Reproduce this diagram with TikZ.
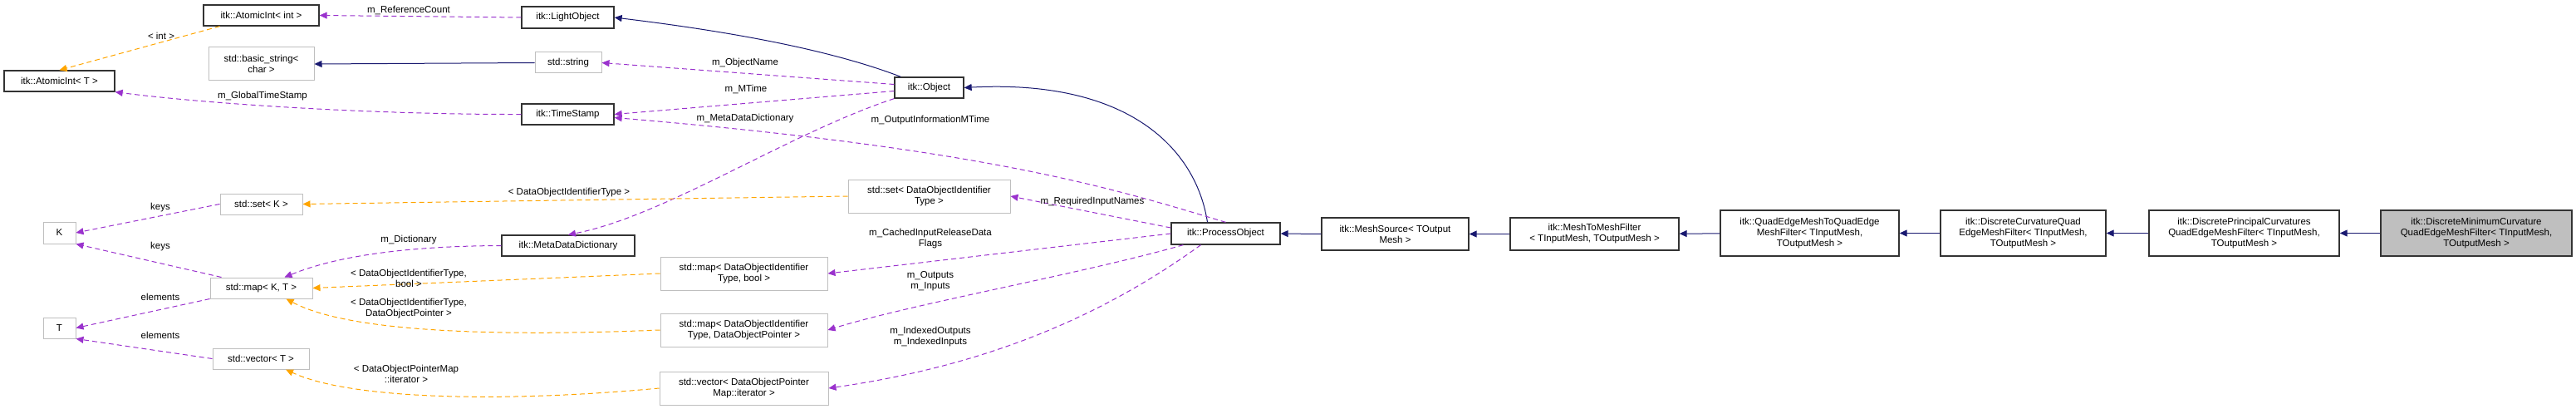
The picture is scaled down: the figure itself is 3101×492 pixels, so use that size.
\documentclass[tikz,border=0pt]{standalone}
\usepackage{fontspec}
\setmainfont{Liberation Sans}
\usetikzlibrary{arrows.meta,calc}
\newcommand{\bx}[7]{\node[#7,minimum width={#4-#2},minimum height={#5-#3}] (#1) at ({(#2+#4)/2},{(#3+#5)/2}) {#6};}
\begin{document}
\begin{tikzpicture}[x=1pt,y=-1pt,
 base/.style={draw,inner sep=1pt,align=center,font=\fontsize{11.5}{13}\selectfont},
 gbox/.style={base,draw=black!25,line width=1pt},
 kbox/.style={base,draw=black!80,line width=1.3pt},
 sel/.style={kbox,fill=black!25},
 tip/.style={-{Triangle[length=9pt,width=8pt]}},
 inh/.style={tip,draw=navy,line width=1pt},
 use/.style={tip,draw=purp,dashed,dash pattern=on 6pt off 4pt,line width=1pt},
 tpl/.style={tip,draw=orng,dashed,dash pattern=on 6pt off 4pt,line width=1pt},
 lbl/.style={align=center,inner sep=0pt,font=\fontsize{11.5}{13}\selectfont}]
\definecolor{navy}{HTML}{191970}
\definecolor{purp}{HTML}{9A32CD}
\definecolor{orng}{HTML}{FFA500}
\useasboundingbox (0,0) rectangle (3101,492);
\bx{aint}{245}{6}{384}{31}{itk::AtomicInt< int >}{kbox}
\bx{aT}{5}{85}{138}{110}{itk::AtomicInt< T >}{kbox}
\bx{bstr}{251}{57}{378}{97}{std::basic\_string<\\char >}{gbox}
\bx{K}{52}{267}{91}{293}{K}{gbox}
\bx{T}{52}{382}{91}{407}{T}{gbox}
\bx{setK}{265}{233}{364}{258}{std::set< K >}{gbox}
\bx{mapKT}{253}{334}{376}{359}{std::map< K, T >}{gbox}
\bx{vecT}{256}{419}{372}{444}{std::vector< T >}{gbox}
\bx{light}{628}{8}{739}{34}{itk::LightObject}{kbox}
\bx{str}{644}{63}{724}{88}{std::string}{gbox}
\bx{ts}{628}{125}{739}{150}{itk::TimeStamp}{kbox}
\bx{mdd}{604}{283}{764}{308}{itk::MetaDataDictionary}{kbox}
\bx{mapb}{795}{309}{996}{349}{std::map< DataObjectIdentifier\\Type, bool >}{gbox}
\bx{mapp}{795}{377}{996}{417}{std::map< DataObjectIdentifier\\Type, DataObjectPointer >}{gbox}
\bx{vecp}{794}{447}{997}{487}{std::vector< DataObjectPointer\\Map::iterator >}{gbox}
\bx{setd}{1021}{216}{1216}{256}{std::set< DataObjectIdentifier\\Type >}{gbox}
\bx{obj}{1077}{93}{1160}{118}{itk::Object}{kbox}
\bx{po}{1410}{268}{1541}{294}{itk::ProcessObject}{kbox}
\bx{ms}{1591}{262}{1768}{301}{itk::MeshSource< TOutput\\Mesh >}{kbox}
\bx{mtm}{1818}{262}{2021}{301}{itk::MeshToMeshFilter\\< TInputMesh, TOutputMesh >}{kbox}
\bx{qe}{2071}{253}{2286}{308}{itk::QuadEdgeMeshToQuadEdge\\MeshFilter< TInputMesh,\\TOutputMesh >}{kbox}
\bx{dc}{2336}{253}{2535}{308}{itk::DiscreteCurvatureQuad\\EdgeMeshFilter< TInputMesh,\\TOutputMesh >}{kbox}
\bx{dp}{2587}{253}{2816}{308}{itk::DiscretePrincipalCurvatures\\QuadEdgeMeshFilter< TInputMesh,\\TOutputMesh >}{kbox}
\bx{dm}{2866}{253}{3096}{308}{itk::DiscreteMinimumCurvature\\QuadEdgeMeshFilter< TInputMesh,\\TOutputMesh >}{sel}
% chain
\draw[inh] (dm) -- (dp);
\draw[inh] (dp) -- (dc);
\draw[inh] (dc) -- (qe);
\draw[inh] (qe) -- (mtm);
\draw[inh] (mtm) -- (ms);
\draw[inh] (ms.west) -- (po.east);
\draw[inh] (po.north) ++(-22,0) coordinate (poa) (poa) .. controls (1440,180) and (1360,95) .. (obj.east);
\draw[inh] (obj.north west) ++(8,0) coordinate (ob1) (ob1) .. controls (1000,60) and (880,38) .. (light.east);
\draw[inh] (str.west) -- (bstr.east);
% uses
\draw[use] (light.west) -- (aint.east);
\node[lbl] (l1) at (492,12) {m\_ReferenceCount};
\draw[tpl] (aint.south) ++(-50,0) coordinate (ai1) (ai1) -- (aT.north);
\node[lbl] (l2) at (194,43) {< int >};
\draw[use] (obj.west) ++(0,-4) coordinate (o1) (o1) -- (str.east);
\node[lbl] (l3) at (897,76) {m\_ObjectName};
\draw[use] (obj.west) ++(0,4) coordinate (o2) (o2) -- (ts.east);
\node[lbl] (l4) at (898,107) {m\_MTime};
\draw[use] (ts.west) .. controls (450,138) and (250,125) .. (aT.south east);
\node[lbl] (l5) at (316,116) {m\_GlobalTimeStamp};
\draw[use] (obj.south west) .. controls (950,160) and (800,260) .. (mdd.north);
\node[lbl] (l6) at (897,143) {m\_MetaDataDictionary};
\draw[use] (po.north) .. controls (1350,230) and (1200,180) .. ($(ts.east)+(0,4)$);
\node[lbl] (l7) at (1120,145) {m\_OutputInformationMTime};
\draw[use] (mdd.west) .. controls (480,296) and (400,310) .. ($(mapKT.north)+(28,0)$);
\node[lbl] (l8) at (492,289) {m\_Dictionary};
\draw[tpl] (setd.west) -- (setK.east);
\node[lbl] (l9) at (685,232) {< DataObjectIdentifierType >};
\draw[tpl] (mapb.west) -- (mapKT.east);
\node[lbl] (l10) at (492,335) {< DataObjectIdentifierType,\\bool >};
\draw[tpl] (mapp.west) .. controls (600,405) and (420,400) .. ($(mapKT.south)+(30,0)$);
\node[lbl] (l11) at (492,371) {< DataObjectIdentifierType,\\DataObjectPointer >};
\draw[tpl] (vecp.west) .. controls (600,485) and (420,480) .. ($(vecT.south)+(30,0)$);
\node[lbl] (l12) at (489,450) {< DataObjectPointerMap\\::iterator >};
\draw[use] (setK.west) -- (K.east);
\node[lbl] (l13) at (193,250) {keys};
\draw[use] ($(mapKT.north west)+(14,0)$) -- (K.south east);
\node[lbl] (l14) at (193,297) {keys};
\draw[use] (mapKT.south west) -- (T.east);
\node[lbl] (l15) at (193,357) {elements};
\draw[use] (vecT.west) -- (T.south east);
\node[lbl] (l16) at (193,403) {elements};
\draw[use] (po.west) ++(0,-7) coordinate (p1) (p1) -- (setd.east);
\node[lbl] (l17) at (1315,243) {m\_RequiredInputNames};
\draw[use] (po.west) ++(0,0) coordinate (p2) (p2) -- (mapb.east);
\node[lbl] (l18) at (1120,287) {m\_CachedInputReleaseData\\Flags};
\draw[use] (po.south west) ++(15,0) coordinate (p3) (p3) .. controls (1300,330) and (1100,365) .. (mapp.east);
\node[lbl] (l19) at (1120,338) {m\_Outputs\\m\_Inputs};
\draw[use] (po.south) ++(-30,0) coordinate (p4) (p4) .. controls (1300,400) and (1150,445) .. (vecp.east);
\node[lbl] (l20) at (1120,405) {m\_IndexedOutputs\\m\_IndexedInputs};
\end{tikzpicture}
\end{document}
